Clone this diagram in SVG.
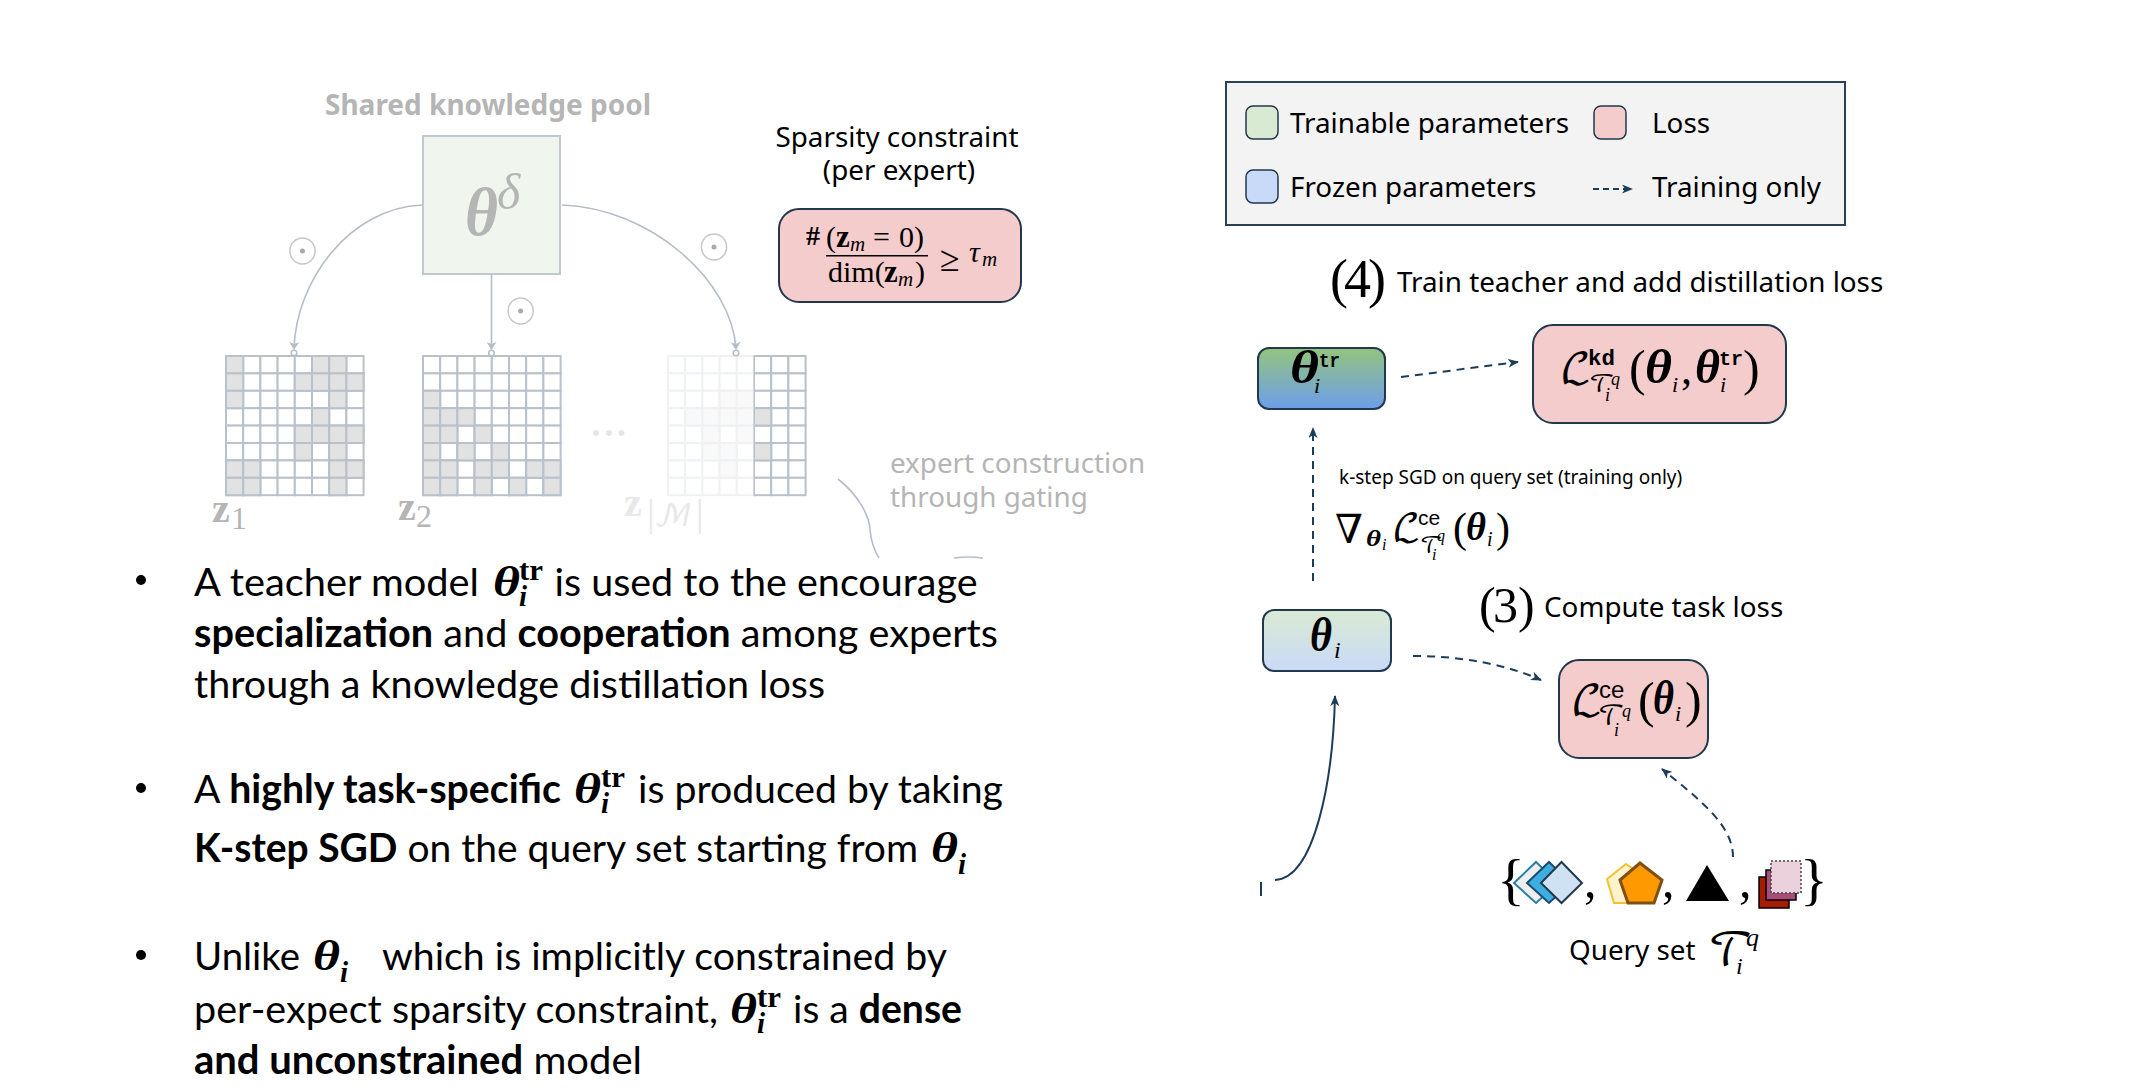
<svg xmlns="http://www.w3.org/2000/svg" width="2140" height="1092" viewBox="0 0 2140 1092">
<style>
text{font-family:"Noto Sans","Open Sans",sans-serif;fill:#000}
.b{font-family:Lato,"Liberation Sans",sans-serif;font-size:39.500px}
.bb{font-weight:700}
.m{font-family:"Liberation Serif","DejaVu Serif",serif}
.mb{font-family:"Liberation Serif","DejaVu Serif",serif;font-weight:700;font-style:italic}
.zb{font-family:"Liberation Serif","DejaVu Serif",serif;font-weight:700}
.mi{font-family:"Liberation Serif","DejaVu Serif",serif;font-style:italic}
.tt{font-family:"Liberation Mono",monospace;font-weight:700}
.ss{font-family:"Liberation Sans",sans-serif}
.cal{font-family:"DejaVu Math TeX Gyre","DejaVu Serif",serif}
.lab{font-size:27.800px}
.cell{fill:#fff;stroke:#b9c1ca;stroke-width:2}
.on{fill:#e2e2e2}
.gc{fill:none;stroke:#b5bec8;stroke-width:1.600}
.dk{fill:none;stroke:#1c3d5a;stroke-width:2}
.ds{stroke-dasharray:8 6}
.pink{fill:#f4cccc;stroke:#22384d;stroke-width:2}
.sw{stroke:#22384d;stroke-width:1.500}
.gate{fill:#fff;stroke:#c8c8c8;stroke-width:1.500}
.dot{fill:#aaa}
.pin{fill:#fff;stroke:#b5bec8;stroke-width:1.500}
.g1{fill:#b5b5b5}
.g2{fill:#e8e8e8}
</style>
<defs>
<marker id="ga" markerWidth="8" markerHeight="10" refX="7" refY="5" orient="auto" markerUnits="userSpaceOnUse" viewBox="0 0 8 10"><path d="M0 0L8 5L0 10L2 5Z" fill="#b5bec8"/></marker>
<marker id="da" markerWidth="11" markerHeight="9" refX="10" refY="4.500" orient="auto" markerUnits="userSpaceOnUse" viewBox="0 0 11 9"><path d="M0 0L11 4.500L0 9L3 4.500Z" fill="#1c3d5a"/></marker>
<linearGradient id="g1" x1="0" y1="0" x2="0" y2="1"><stop offset="0" stop-color="#93c47d"/><stop offset="1" stop-color="#6d9eeb"/></linearGradient>
<linearGradient id="g2" x1="0" y1="0" x2="0" y2="1"><stop offset="0" stop-color="#d9ead3"/><stop offset="1" stop-color="#c9daf8"/></linearGradient>
<g id="row8"><rect class="cell" width="17.200" height="17.400"/><rect class="cell" x="17.200" width="17.200" height="17.400"/><rect class="cell" x="34.400" width="17.200" height="17.400"/><rect class="cell" x="51.600" width="17.200" height="17.400"/><rect class="cell" x="68.800" width="17.200" height="17.400"/><rect class="cell" x="86" width="17.200" height="17.400"/><rect class="cell" x="103.200" width="17.200" height="17.400"/><rect class="cell" x="120.400" width="17.200" height="17.400"/></g>
<g id="blank"><use href="#row8"/><use href="#row8" y="17.400"/><use href="#row8" y="34.800"/><use href="#row8" y="52.200"/><use href="#row8" y="69.600"/><use href="#row8" y="87"/><use href="#row8" y="104.400"/><use href="#row8" y="121.800"/></g>
<rect id="c" class="cell on" width="17.200" height="17.400"/>
</defs>

<g id="pool-title"><text x="488" y="115" text-anchor="middle" font-size="28" font-weight="700" class="g1">Shared knowledge pool</text></g>
<g id="pool-node"><rect x="423" y="136" width="137" height="138" fill="#f0f6ee" stroke="#c0c8d0" stroke-width="2"/>
<text class="mb g1" x="465" y="235" font-size="68" textLength="33" lengthAdjust="spacingAndGlyphs">θ</text><text class="mi g1" x="497" y="209" font-size="50">δ</text></g>

<g id="legend"><rect x="1226" y="82" width="619" height="143" fill="#f3f3f3" stroke="#2a4258" stroke-width="2"/>
<rect class="sw" x="1246" y="106" width="32" height="33" rx="7" fill="#d9ead3"/>
<rect class="sw" x="1594" y="106" width="32" height="33" rx="7" fill="#f4cccc"/>
<rect class="sw" x="1246" y="170" width="32" height="33" rx="7" fill="#c9daf8"/>
<text class="lab" x="1290" y="133">Trainable parameters</text><text class="lab" x="1652" y="133">Loss</text>
<text class="lab" x="1290" y="197">Frozen parameters</text><text class="lab" x="1652" y="197">Training only</text></g>

<g id="connectors">
<path class="gc" marker-end="url(#ga)" d="M422 205C350 208 296 280 294 349"/>
<path class="gc" marker-end="url(#ga)" d="M491.500 274V349"/>
<path class="gc" marker-end="url(#ga)" d="M562 205C650 208 732 280 736 349"/>
<path class="gc" d="M838 479C862 498 870 520 870 530C871 540 874 550 879 558"/>
<path class="gc" d="M954 558Q968 556 983 558"/>
<path class="dk ds" marker-end="url(#da)" d="M1401 377L1518 362"/>
<path class="dk ds" marker-end="url(#da)" d="M1313 581V428"/>
<path class="dk ds" marker-end="url(#da)" d="M1413 656C1460 656 1505 664 1541 680"/>
<path class="dk ds" marker-end="url(#da)" d="M1733 857C1733 825 1700 800 1662 769"/>
<path class="dk" marker-end="url(#da)" d="M1275 880C1315 878 1333 780 1335 696"/>
<path class="dk" stroke-width="1" d="M1261 882V896"/>
<path class="dk" stroke-dasharray="6 4" marker-end="url(#da)" d="M1593 189H1632"/>
</g>

<g id="gate-1"><ellipse class="gate" cx="302.500" cy="251" rx="12.600" ry="13"/><circle class="dot" cx="302.500" cy="251" r="2.500"/></g>
<g id="gate-2"><ellipse class="gate" cx="520.600" cy="311" rx="12.600" ry="13"/><circle class="dot" cx="520.600" cy="311" r="2.500"/></g>
<g id="gate-3"><ellipse class="gate" cx="714" cy="247" rx="12.600" ry="13"/><circle class="dot" cx="714" cy="247" r="2.500"/></g>

<g id="mask-1"><use href="#blank" x="226" y="356"/>
<use href="#c" x="226" y="356"/><use href="#c" x="312" y="356"/><use href="#c" x="329.200" y="356"/>
<use href="#c" x="226" y="373.400"/><use href="#c" x="294.800" y="373.400"/><use href="#c" x="312" y="373.400"/><use href="#c" x="329.200" y="373.400"/><use href="#c" x="346.400" y="373.400"/>
<use href="#c" x="226" y="390.800"/><use href="#c" x="329.200" y="390.800"/>
<use href="#c" x="312" y="408.200"/>
<use href="#c" x="294.800" y="425.600"/><use href="#c" x="312" y="425.600"/><use href="#c" x="329.200" y="425.600"/><use href="#c" x="346.400" y="425.600"/>
<use href="#c" x="294.800" y="443"/><use href="#c" x="329.200" y="443"/>
<use href="#c" x="226" y="460.400"/><use href="#c" x="243.200" y="460.400"/><use href="#c" x="329.200" y="460.400"/><use href="#c" x="346.400" y="460.400"/>
<use href="#c" x="226" y="477.800"/><use href="#c" x="243.200" y="477.800"/><use href="#c" x="329.200" y="477.800"/>
<circle class="pin" cx="294" cy="353" r="2.800"/>
<text class="zb g1" x="212" y="522" font-size="40">z</text><text class="m g1" x="231" y="529" font-size="32">1</text></g>

<g id="mask-2"><use href="#blank" x="423" y="356"/>
<use href="#c" x="423" y="390.800"/>
<use href="#c" x="423" y="408.200"/><use href="#c" x="440.200" y="408.200"/><use href="#c" x="457.400" y="408.200"/>
<use href="#c" x="423" y="425.600"/><use href="#c" x="440.200" y="425.600"/><use href="#c" x="474.600" y="425.600"/>
<use href="#c" x="423" y="443"/><use href="#c" x="457.400" y="443"/><use href="#c" x="491.800" y="443"/>
<use href="#c" x="423" y="460.400"/><use href="#c" x="440.200" y="460.400"/><use href="#c" x="474.600" y="460.400"/><use href="#c" x="491.800" y="460.400"/><use href="#c" x="526.200" y="460.400"/><use href="#c" x="543.400" y="460.400"/>
<use href="#c" x="423" y="477.800"/><use href="#c" x="440.200" y="477.800"/><use href="#c" x="474.600" y="477.800"/><use href="#c" x="509" y="477.800"/><use href="#c" x="543.400" y="477.800"/>
<circle class="pin" cx="491.500" cy="353" r="2.800"/>
<text class="zb g1" x="398" y="520" font-size="40">z</text><text class="m g1" x="416" y="527" font-size="32">2</text></g>

<g id="ellipsis" fill="#eae4e4"><circle cx="596" cy="433" r="3"/><circle cx="609" cy="433" r="3"/><circle cx="621.500" cy="433" r="3"/></g>

<g id="mask-3"><use href="#blank" x="668" y="356"/>
<use href="#c" x="754" y="408.200"/><use href="#c" x="754" y="443"/>
<use href="#c" x="719.600" y="390.800"/><use href="#c" x="736.800" y="390.800"/>
<use href="#c" x="685.200" y="408.200"/><use href="#c" x="702.400" y="408.200"/><use href="#c" x="719.600" y="408.200"/><use href="#c" x="736.800" y="408.200"/>
<use href="#c" x="702.400" y="425.600"/><use href="#c" x="736.800" y="425.600"/>
<use href="#c" x="702.400" y="443"/><use href="#c" x="719.600" y="443"/>
<use href="#c" x="719.600" y="460.400"/>
<rect x="666.500" y="354" width="87" height="143" fill="#fff" opacity=".78"/>
<circle class="pin" cx="736" cy="353" r="2.800"/>
<text class="zb g2" x="624" y="516" font-size="40">z</text><text class="m g2" x="647" y="526" font-size="38">|</text><text class="cal g2" x="654" y="526" font-size="30">ℳ</text><text class="m g2" x="696" y="526" font-size="38">|</text></g>

<g id="sparsity-label"><text class="lab" x="897" y="147" text-anchor="middle">Sparsity constraint</text><text class="lab" x="899" y="180" text-anchor="middle">(per expert)</text></g>
<g id="sparsity-box"><rect class="pink" x="779" y="209" width="242" height="93" rx="20"/>
<text class="zb" x="806" y="245" font-size="28">#</text>
<text class="m" x="826" y="247" font-size="30">(</text><text class="zb" x="836" y="247" font-size="31">z</text><text class="mi" x="850" y="251" font-size="21">m</text><text class="m" x="873" y="247" font-size="30">=</text><text class="m" x="899" y="247" font-size="30">0)</text>
<rect x="826" y="255" width="102" height="1.500" fill="#000"/>
<text class="m" x="828" y="282" font-size="30">dim(</text><text class="zb" x="884" y="282" font-size="31">z</text><text class="mi" x="898" y="286" font-size="21">m</text><text class="m" x="915" y="282" font-size="30">)</text>
<text class="m" x="940" y="271" font-size="36">≥</text><text class="mi" x="969" y="262" font-size="30">τ</text><text class="mi" x="982" y="266" font-size="21">m</text></g>

<g id="gating-label"><text class="lab g1" x="890" y="473">expert construction</text><text class="lab g1" x="890" y="507">through gating</text></g>

<g id="bullets">
<circle cx="141" cy="580" r="5"/><circle cx="141" cy="788" r="5"/><circle cx="141" cy="955" r="5"/>
<text class="b" x="194" y="596" textLength="285" lengthAdjust="spacingAndGlyphs">A teacher model</text>
<text class="mb" x="493" y="596" font-size="42" textLength="27" lengthAdjust="spacingAndGlyphs">θ</text><text class="m bb" x="519" y="580" font-size="30" textLength="24" lengthAdjust="spacingAndGlyphs">tr</text><text class="mb" x="519" y="606" font-size="29">i</text>
<text class="b" x="554.500" y="596" textLength="423" lengthAdjust="spacingAndGlyphs">is used to the encourage</text>
<text class="b" x="194" y="647" textLength="804" lengthAdjust="spacingAndGlyphs"><tspan class="bb">specialization</tspan> and <tspan class="bb">cooperation</tspan> among experts</text>
<text class="b" x="194" y="698" textLength="631" lengthAdjust="spacingAndGlyphs">through a knowledge distillation loss</text>
<text class="b" x="194" y="803" textLength="367" lengthAdjust="spacingAndGlyphs">A <tspan class="bb">highly task-specific</tspan></text>
<text class="mb" x="574" y="803" font-size="42" textLength="27" lengthAdjust="spacingAndGlyphs">θ</text><text class="m bb" x="601" y="787" font-size="30" textLength="24" lengthAdjust="spacingAndGlyphs">tr</text><text class="mb" x="601" y="813" font-size="29">i</text>
<text class="b" x="638" y="803" textLength="365" lengthAdjust="spacingAndGlyphs">is produced by taking</text>
<text class="b" x="194" y="862" textLength="724" lengthAdjust="spacingAndGlyphs"><tspan class="bb">K-step SGD</tspan> on the query set starting from</text>
<text class="mb" x="931" y="862" font-size="42" textLength="27" lengthAdjust="spacingAndGlyphs">θ</text><text class="mb" x="958" y="874" font-size="29">i</text>
<text class="b" x="194" y="970" textLength="106" lengthAdjust="spacingAndGlyphs">Unlike</text><text class="mb" x="313" y="970" font-size="42" textLength="27" lengthAdjust="spacingAndGlyphs">θ</text><text class="mb" x="340" y="982" font-size="29">i</text>
<text class="b" x="382" y="970" textLength="565" lengthAdjust="spacingAndGlyphs">which is implicitly constrained by</text>
<text class="b" x="194" y="1023" textLength="524" lengthAdjust="spacingAndGlyphs">per-expect sparsity constraint,</text>
<text class="mb" x="730" y="1023" font-size="42" textLength="27" lengthAdjust="spacingAndGlyphs">θ</text><text class="m bb" x="757" y="1007" font-size="30" textLength="24" lengthAdjust="spacingAndGlyphs">tr</text><text class="mb" x="757" y="1033" font-size="29">i</text>
<text class="b" x="793" y="1023" textLength="169" lengthAdjust="spacingAndGlyphs">is a <tspan class="bb">dense</tspan></text>
<text class="b" x="194" y="1074" textLength="448" lengthAdjust="spacingAndGlyphs"><tspan class="bb">and unconstrained</tspan> model</text>
</g>

<g id="step-4"><text class="m" x="1330" y="297" font-size="54">(</text><text class="m" x="1344" y="297" font-size="54" textLength="27" lengthAdjust="spacingAndGlyphs">4</text><text class="m" x="1368" y="297" font-size="54">)</text><text class="lab" x="1397" y="292">Train teacher and add distillation loss</text></g>
<g id="teacher-node"><rect x="1258" y="348" width="127" height="61" rx="11" fill="url(#g1)" stroke="#22384d" stroke-width="2"/>
<text class="mb" x="1290" y="383" font-size="46" textLength="29" lengthAdjust="spacingAndGlyphs">θ</text><text class="tt" x="1319" y="367" font-size="20" textLength="21" lengthAdjust="spacingAndGlyphs">tr</text><text class="mi" x="1314" y="393" font-size="22">i</text></g>
<g id="kd-node"><rect class="pink" x="1533" y="325" width="253" height="98" rx="20"/>
<text class="cal" x="1560" y="383" font-size="42">ℒ</text><text class="tt" x="1588" y="365" font-size="22" textLength="27" lengthAdjust="spacingAndGlyphs">kd</text><text class="cal" x="1589" y="392" font-size="25">𝒯</text><text class="mi" x="1611" y="385" font-size="18">q</text><text class="mi" x="1605" y="401" font-size="18">i</text>
<text class="m" x="1629" y="385" font-size="50">(</text><text class="mb" x="1645" y="383" font-size="48" textLength="27" lengthAdjust="spacingAndGlyphs">θ</text><text class="mi" x="1672" y="392" font-size="22">i</text><text class="m" x="1681" y="384" font-size="44">,</text><text class="mb" x="1695" y="383" font-size="48" textLength="25" lengthAdjust="spacingAndGlyphs">θ</text><text class="tt" x="1719" y="365" font-size="20" textLength="24" lengthAdjust="spacingAndGlyphs">tr</text><text class="mi" x="1720" y="392" font-size="22">i</text><text class="m" x="1743" y="385" font-size="50">)</text></g>

<g id="sgd-label"><text x="1339" y="484" font-size="19">k-step SGD on query set (training only)</text>
<text class="m" x="1335" y="543" font-size="40">∇</text><text class="mb" x="1366" y="546" font-size="24" textLength="15" lengthAdjust="spacingAndGlyphs">θ</text><text class="mi" x="1382" y="550" font-size="16">i</text><text class="cal" x="1392" y="541" font-size="38">ℒ</text><text class="ss" x="1418" y="525" font-size="21">ce</text><text class="cal" x="1420" y="553" font-size="22">𝒯</text><text class="mi" x="1437" y="541" font-size="16">q</text><text class="mi" x="1432" y="560" font-size="16">i</text><text class="m" x="1453" y="542" font-size="42">(</text><text class="mb" x="1466" y="540" font-size="40" textLength="20" lengthAdjust="spacingAndGlyphs">θ</text><text class="mi" x="1487" y="546" font-size="20">i</text><text class="m" x="1496" y="542" font-size="42">)</text></g>

<g id="step-3"><text class="m" x="1479" y="622" font-size="50">(</text><text class="m" x="1493" y="622" font-size="50">3</text><text class="m" x="1518" y="622" font-size="50">)</text><text class="lab" x="1544" y="617">Compute task loss</text></g>
<g id="student-node"><rect x="1263" y="610" width="128" height="61" rx="11" fill="url(#g2)" stroke="#22384d" stroke-width="2"/>
<text class="mb" x="1310" y="651" font-size="48" textLength="22" lengthAdjust="spacingAndGlyphs">θ</text><text class="mi" x="1334" y="658" font-size="24">i</text></g>
<g id="ce-node"><rect class="pink" x="1559" y="660" width="149" height="98" rx="20"/>
<text class="cal" x="1571" y="715" font-size="42">ℒ</text><text class="ss" x="1599" y="698" font-size="24">ce</text><text class="cal" x="1598" y="725" font-size="26">𝒯</text><text class="mi" x="1622" y="717" font-size="18">q</text><text class="mi" x="1614" y="736" font-size="18">i</text>
<text class="m" x="1638" y="717" font-size="50">(</text><text class="mb" x="1653" y="714" font-size="48" textLength="21" lengthAdjust="spacingAndGlyphs">θ</text><text class="mi" x="1675" y="721" font-size="22">i</text><text class="m" x="1685" y="717" font-size="50">)</text></g>

<g id="query-set">
<text class="m" x="1497" y="899" font-size="58">{</text>
<path d="M1536 862L1558 883L1536 903L1514 883Z" fill="#eee" stroke="#2a7fa8" stroke-width="2"/>
<path d="M1549 862L1571 883L1549 903L1527 883Z" fill="#3daee0" stroke="#1c4a70" stroke-width="2"/>
<path d="M1561.500 862L1582 883L1561.500 903L1541 883Z" fill="#cfe2f3" stroke="#22384d" stroke-width="2"/>
<text class="m" x="1584" y="897" font-size="50">,</text>
<path d="M1626 864L1648 879L1641 903H1614L1607 879Z" fill="#fff2cc" stroke="#f1c232" stroke-width="2"/>
<path d="M1640 863L1662 880L1654 903H1628L1620 880Z" fill="#ff9900" stroke="#7f4f10" stroke-width="3"/>
<text class="m" x="1662" y="897" font-size="50">,</text>
<path d="M1707 865L1729 901H1686Z" fill="#000"/>
<text class="m" x="1739" y="897" font-size="50">,</text>
<rect x="1759" y="877" width="30" height="31" fill="#a61c00" stroke="#000" stroke-width="1.500"/>
<rect x="1766" y="870" width="30" height="30" fill="#a64d79" stroke="#000" stroke-width="1.500"/>
<rect x="1771" y="861" width="30" height="32" fill="#ead1dc" stroke="#444" stroke-width="1.500" stroke-dasharray="2 2"/>
<text class="m" x="1800" y="899" font-size="58">}</text>
<text class="lab" x="1569" y="960">Query set</text>
<text class="cal" x="1708" y="965" font-size="44">𝒯</text><text class="mi" x="1746" y="946" font-size="26">q</text><text class="mi" x="1736" y="974" font-size="24">i</text>
</g>
</svg>
